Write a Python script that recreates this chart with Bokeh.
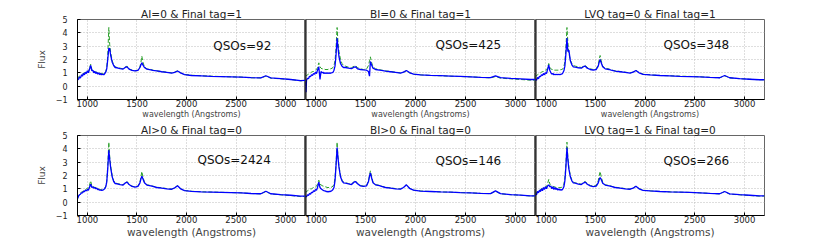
from bokeh.plotting import figure
from bokeh.layouts import column, row
from bokeh.models import Label, Span, FixedTicker, Range1d
from bokeh.embed import file_html
from bokeh.resources import INLINE

# ---------------- data ----------------
wavelength = [900, 905, 910, 920, 930, 940, 950, 960, 970, 980,
              990, 1000, 1010, 1020, 1033, 1045, 1055, 1065, 1075, 1085,
              1095, 1105, 1115, 1125, 1135, 1145, 1155, 1165, 1175, 1185,
              1195, 1205, 1216, 1225, 1235, 1250, 1265, 1280, 1300, 1330,
              1360, 1385, 1400, 1420, 1450, 1480, 1510, 1530, 1540, 1549,
              1560, 1575, 1600, 1640, 1660, 1700, 1750, 1800, 1850, 1880,
              1909, 1940, 1980, 2050, 2150, 2250, 2350, 2450, 2550, 2650,
              2750, 2800, 2850, 2950, 3050, 3150, 3200]

green_1 = [.55, .6, .7, .75, .8, .85, .9, .95, 1.0, 1.0,
           1.05, 1.1, 1.1, 1.3, 1.65, 1.25, 1.15, 1.1, 1.1, 1.05,
           1.05, 1.0, 1.0, 1.0, .95, .95, .95, .95, 1.0, 1.1,
           1.4, 2.3, 4.4, 3.1, 2.5, 1.9, 1.6, 1.45, 1.4, 1.35,
           1.3, 1.45, 1.5, 1.3, 1.2, 1.15, 1.2, 1.45, 1.8, 2.25,
           1.8, 1.45, 1.3, 1.25, 1.2, 1.15, 1.1, 1.05, 1.0, 1.05,
           1.15, 1.0, .88, .82, .78, .75, .72, .7, .68, .63,
           .62, .75, .6, .55, .5, .4, .42]
blue_1 = [.45, .55, .5, .7, .6, .85, .75, .95, .85, 1.05,
          .95, 1.15, 1.0, 1.25, 1.55, 1.15, 1.2, 1.0, 1.1, .95,
          1.05, .9, 1.0, .85, .95, .85, .9, .85, .95, 1.05,
          1.3, 2.0, 2.85, 2.8, 2.3, 1.8, 1.55, 1.4, 1.38, 1.32,
          1.28, 1.42, 1.45, 1.28, 1.18, 1.14, 1.18, 1.4, 1.6, 1.75,
          1.6, 1.4, 1.28, 1.22, 1.18, 1.14, 1.08, 1.03, .98, 1.04,
          1.14, 1.0, .86, .8, .77, .74, .72, .7, .68, .64,
          .62, .78, .62, .56, .5, .42, .44]

green_2 = [.75, .8, .8, .85, .9, .95, 1.0, 1.05, 1.1, 1.1,
           1.15, 1.2, 1.25, 1.4, 1.75, 1.45, 1.35, 1.3, 1.3, 1.3,
           1.25, 1.25, 1.25, 1.25, 1.3, 1.3, 1.3, 1.35, 1.4, 1.55,
           1.9, 2.8, 4.4, 3.3, 2.6, 2.0, 1.7, 1.55, 1.5, 1.42,
           1.38, 1.5, 1.55, 1.38, 1.3, 1.25, 1.28, 1.55, 1.9, 2.2,
           1.8, 1.45, 1.3, 1.25, 1.2, 1.15, 1.1, 1.05, 1.0, 1.05,
           1.15, 1.0, .9, .85, .8, .78, .75, .72, .7, .66,
           .62, .72, .6, .55, .5, .45, .45]
blue_2 = [.3, -.45, .45, .6, .55, .75, .7, .85, .8, .95,
          .9, 1.05, .95, 1.2, 1.45, .5, 1.1, 1.0, 1.05, .95,
          1.0, .95, 1.0, .95, 1.0, .95, 1.0, 1.0, 1.05, 1.2,
          1.5, 2.3, 3.6, 2.9, 2.2, 1.7, 1.5, 1.4, 1.4, 1.35,
          1.32, 1.42, 1.45, 1.3, 1.25, 1.22, 1.2, 1.1, .75, 1.85,
          1.6, 1.35, 1.25, 1.2, 1.18, 1.13, 1.08, 1.03, .98, 1.05,
          1.18, 1.02, .9, .85, .81, .79, .76, .73, .7, .66,
          .64, .78, .64, .58, .55, .5, .5]

green_3 = [.7, .75, .8, .85, .9, .95, 1.0, 1.05, 1.1, 1.1,
           1.15, 1.2, 1.2, 1.35, 1.7, 1.4, 1.3, 1.25, 1.25, 1.2,
           1.2, 1.2, 1.2, 1.2, 1.2, 1.2, 1.25, 1.25, 1.3, 1.45,
           1.85, 2.8, 4.4, 3.3, 2.5, 1.95, 1.7, 1.55, 1.5, 1.45,
           1.4, 1.5, 1.55, 1.4, 1.3, 1.25, 1.3, 1.6, 2.0, 2.3,
           1.9, 1.5, 1.35, 1.28, 1.22, 1.15, 1.1, 1.05, 1.0, 1.06,
           1.18, 1.02, .9, .85, .8, .78, .75, .73, .7, .66,
           .63, .78, .62, .56, .52, .48, .48]
blue_3 = [.4, .5, .45, .65, .55, .75, .7, .85, .8, .95,
          .85, 1.0, .95, 1.2, 1.6, 1.15, 1.0, .9, .95, .85,
          .9, .85, .9, .85, .9, .85, .9, .9, 1.0, 1.15,
          1.5, 2.4, 3.6, 2.6, 2.7, 1.9, 1.6, 1.45, 1.42, 1.38,
          1.35, 1.48, 1.5, 1.35, 1.25, 1.2, 1.25, 1.5, 1.8, 2.0,
          1.75, 1.45, 1.3, 1.25, 1.2, 1.13, 1.08, 1.03, .98, 1.05,
          1.18, 1.0, .88, .84, .8, .77, .74, .72, .7, .66,
          .63, .8, .63, .56, .52, .48, .48]

green_4 = [.3, .4, .5, .6, .7, .75, .8, .85, .9, .95,
           1.0, 1.05, 1.05, 1.25, 1.6, 1.2, 1.15, 1.15, 1.1, 1.1,
           1.05, 1.0, 1.0, .95, .95, .95, .95, 1.0, 1.05, 1.2,
           1.6, 2.7, 4.5, 3.4, 2.7, 2.0, 1.6, 1.45, 1.4, 1.35,
           1.3, 1.5, 1.55, 1.35, 1.2, 1.15, 1.2, 1.5, 1.9, 2.3,
           1.9, 1.5, 1.3, 1.25, 1.2, 1.12, 1.08, 1.02, .98, 1.08,
           1.25, 1.02, .88, .82, .78, .76, .74, .72, .7, .65,
           .62, .8, .62, .55, .5, .42, .44]
blue_4 = [.25, .35, .45, .55, .6, .7, .7, .8, .8, .9,
          .85, .95, .9, 1.1, 1.35, 1.1, 1.15, 1.05, 1.1, 1.0,
          1.05, .95, .95, .9, .9, .88, .9, .95, 1.0, 1.15,
          1.5, 2.5, 3.9, 3.2, 2.55, 1.9, 1.55, 1.4, 1.38, 1.32,
          1.28, 1.45, 1.5, 1.32, 1.18, 1.13, 1.18, 1.45, 1.75, 1.95,
          1.75, 1.45, 1.28, 1.22, 1.18, 1.1, 1.06, 1.0, .97, 1.07,
          1.23, 1.0, .87, .81, .77, .75, .73, .71, .69, .65,
          .63, .82, .63, .56, .52, .45, .46]

green_5 = [.7, .75, .8, .85, .9, .95, 1.0, 1.0, 1.05, 1.1,
           1.1, 1.15, 1.2, 1.35, 1.65, 1.35, 1.3, 1.25, 1.2, 1.2,
           1.15, 1.15, 1.1, 1.1, 1.1, 1.1, 1.1, 1.15, 1.2, 1.35,
           1.8, 2.8, 4.5, 3.4, 2.7, 2.0, 1.65, 1.5, 1.45, 1.4,
           1.35, 1.55, 1.6, 1.4, 1.25, 1.2, 1.25, 1.6, 2.0, 2.35,
           1.95, 1.5, 1.32, 1.26, 1.2, 1.12, 1.08, 1.02, 1.0, 1.1,
           1.3, 1.05, .9, .84, .8, .77, .75, .72, .7, .66,
           .64, .82, .63, .56, .52, .46, .48]
blue_5 = [.35, .45, .4, .55, .5, .65, .6, .75, .7, .85,
          .8, .95, .9, 1.1, 1.5, 1.1, 1.0, .95, .9, .85,
          .85, .8, .8, .78, .8, .8, .82, .88, .95, 1.1,
          1.6, 2.7, 4.1, 3.3, 2.6, 1.9, 1.6, 1.45, 1.42, 1.38,
          1.32, 1.5, 1.55, 1.38, 1.22, 1.18, 1.22, 1.55, 1.95, 2.2,
          1.85, 1.45, 1.3, 1.24, 1.18, 1.1, 1.06, 1.0, .98, 1.1,
          1.3, 1.04, .9, .83, .8, .77, .75, .72, .7, .66,
          .64, .85, .64, .57, .53, .47, .48]

green_6 = [.6, .7, .75, .8, .85, .9, .95, 1.0, 1.0, 1.05,
           1.1, 1.15, 1.15, 1.35, 1.7, 1.35, 1.25, 1.2, 1.2, 1.15,
           1.15, 1.1, 1.1, 1.1, 1.1, 1.1, 1.1, 1.12, 1.18, 1.35,
           1.8, 2.8, 4.5, 3.4, 2.6, 2.0, 1.65, 1.5, 1.45, 1.4,
           1.35, 1.5, 1.55, 1.38, 1.25, 1.2, 1.25, 1.6, 2.0, 2.3,
           1.9, 1.5, 1.3, 1.25, 1.2, 1.12, 1.08, 1.02, .98, 1.06,
           1.2, 1.02, .9, .85, .8, .77, .75, .73, .7, .66,
           .62, .8, .6, .55, .5, .45, .46]
blue_6 = [.5, .65, .55, .8, .7, .9, .8, 1.0, .85, 1.1,
          .95, 1.15, 1.0, 1.2, 1.3, 1.15, 1.2, 1.0, 1.15, .95,
          1.1, .95, 1.05, .9, 1.0, .9, .95, .9, 1.0, 1.15,
          1.6, 2.6, 4.1, 3.2, 2.5, 1.9, 1.6, 1.45, 1.42, 1.36,
          1.32, 1.45, 1.5, 1.34, 1.22, 1.17, 1.2, 1.45, 1.7, 1.85,
          1.7, 1.42, 1.28, 1.22, 1.18, 1.1, 1.06, 1.0, .97, 1.05,
          1.2, 1.0, .88, .84, .8, .77, .75, .73, .7, .66,
          .63, .8, .62, .56, .52, .47, .47]

titles = ["AI=0 & Final tag=1", "BI=0 & Final tag=1", "LVQ tag=0 & Final tag=1",
          "AI>0 & Final tag=0", "BI>0 & Final tag=0", "LVQ tag=1 & Final tag=0"]
qso_labels = ["QSOs=92", "QSOs=425", "QSOs=348", "QSOs=2424", "QSOs=146", "QSOs=266"]
greens = [green_1, green_2, green_3, green_4, green_5, green_6]
blues = [blue_1, blue_2, blue_3, blue_4, blue_5, blue_6]
x_ticks = [1000, 1500, 2000, 2500, 3000]
y_ticks = [-1, 0, 1, 2, 3, 4, 5]

# ---------------- layout / style ----------------
FONT = "DejaVu Sans"
label_pos = [(2270, 3.05), (2200, 3.1), (2185, 3.1), (2110, 3.2), (2200, 3.1), (2185, 3.1)]
frame_widths = [228, 230, 229]


def make_panel(i):
    c = i % 3
    r = i // 3
    p = figure(frame_width=frame_widths[c], frame_height=80,
               x_range=Range1d(900, 3200), y_range=Range1d(-1, 5),
               output_backend="svg", toolbar_location=None,
               min_border_left=77 if c == 0 else 0,
               min_border_right=0 if c < 2 else 20,
               min_border_top=19 if r == 0 else 12,
               min_border_bottom=18,
               background_fill_color="white", border_fill_color="white")
    p.title.text = titles[i]
    p.title.align = "center"
    p.title.text_font = FONT
    p.title.text_font_size = "10.5px"
    p.title.text_font_style = "normal"
    p.title.text_color = "#222222"
    p.title.standoff = 0
    p.outline_line_color = "#666666"
    p.outline_line_width = 1

    p.xaxis.ticker = FixedTicker(ticks=x_ticks)
    p.xgrid.ticker = FixedTicker(ticks=x_ticks)
    p.ygrid.ticker = FixedTicker(ticks=y_ticks)
    p.grid.grid_line_color = "#bdbdbd"
    p.grid.grid_line_dash = "1 2"
    p.grid.grid_line_width = 1

    p.xaxis.axis_label = "wavelength (Angstroms)"
    p.xaxis.axis_label_text_font = FONT
    p.xaxis.axis_label_text_font_style = "normal"
    p.xaxis.axis_label_text_font_size = "8px" if r == 0 else "10.5px"
    p.xaxis.axis_label_standoff = 0
    p.xaxis.major_label_text_font = FONT
    p.xaxis.major_label_text_font_size = "8.5px"
    p.xaxis.major_label_standoff = 0
    p.xaxis.major_tick_in = 3
    p.xaxis.major_tick_out = 0
    p.xaxis.minor_tick_line_color = None
    p.xaxis.axis_line_color = "black"
    p.xaxis.major_label_text_color = "#222222"

    if c == 0:
        p.yaxis.ticker = FixedTicker(ticks=y_ticks)
        p.yaxis.axis_label = "Flux"
        p.yaxis.axis_label_text_font = FONT
        p.yaxis.axis_label_text_font_style = "normal"
        p.yaxis.axis_label_text_font_size = "9px"
        p.yaxis.axis_label_standoff = 6
        p.yaxis.major_label_text_font = FONT
        p.yaxis.major_label_text_font_size = "8px"
        p.yaxis.major_label_standoff = 10
        p.yaxis.major_tick_in = 3
        p.yaxis.major_tick_out = 0
        p.yaxis.minor_tick_line_color = None
        p.yaxis.axis_line_color = "black"
        p.yaxis.major_label_text_color = "#222222"
    else:
        p.yaxis.visible = False
        p.add_layout(Span(location=900, dimension="height",
                          line_color="black", line_width=2))

    p.line(wavelength, greens[i], line_color="#2ca02c", line_width=1,
           line_dash="4 2")
    p.line(wavelength, blues[i], line_color="#0000ff", line_width=1.3)

    lx, ly = label_pos[i]
    p.add_layout(Label(x=lx, y=ly, text=qso_labels[i], text_font=FONT,
                       text_font_size="12px", text_baseline="middle",
                       text_color="#111111"))
    return p


panels = [make_panel(i) for i in range(6)]
layout = column(row(*panels[:3]), row(*panels[3:]))

open("out.html", "w").write(file_html(layout, INLINE))
